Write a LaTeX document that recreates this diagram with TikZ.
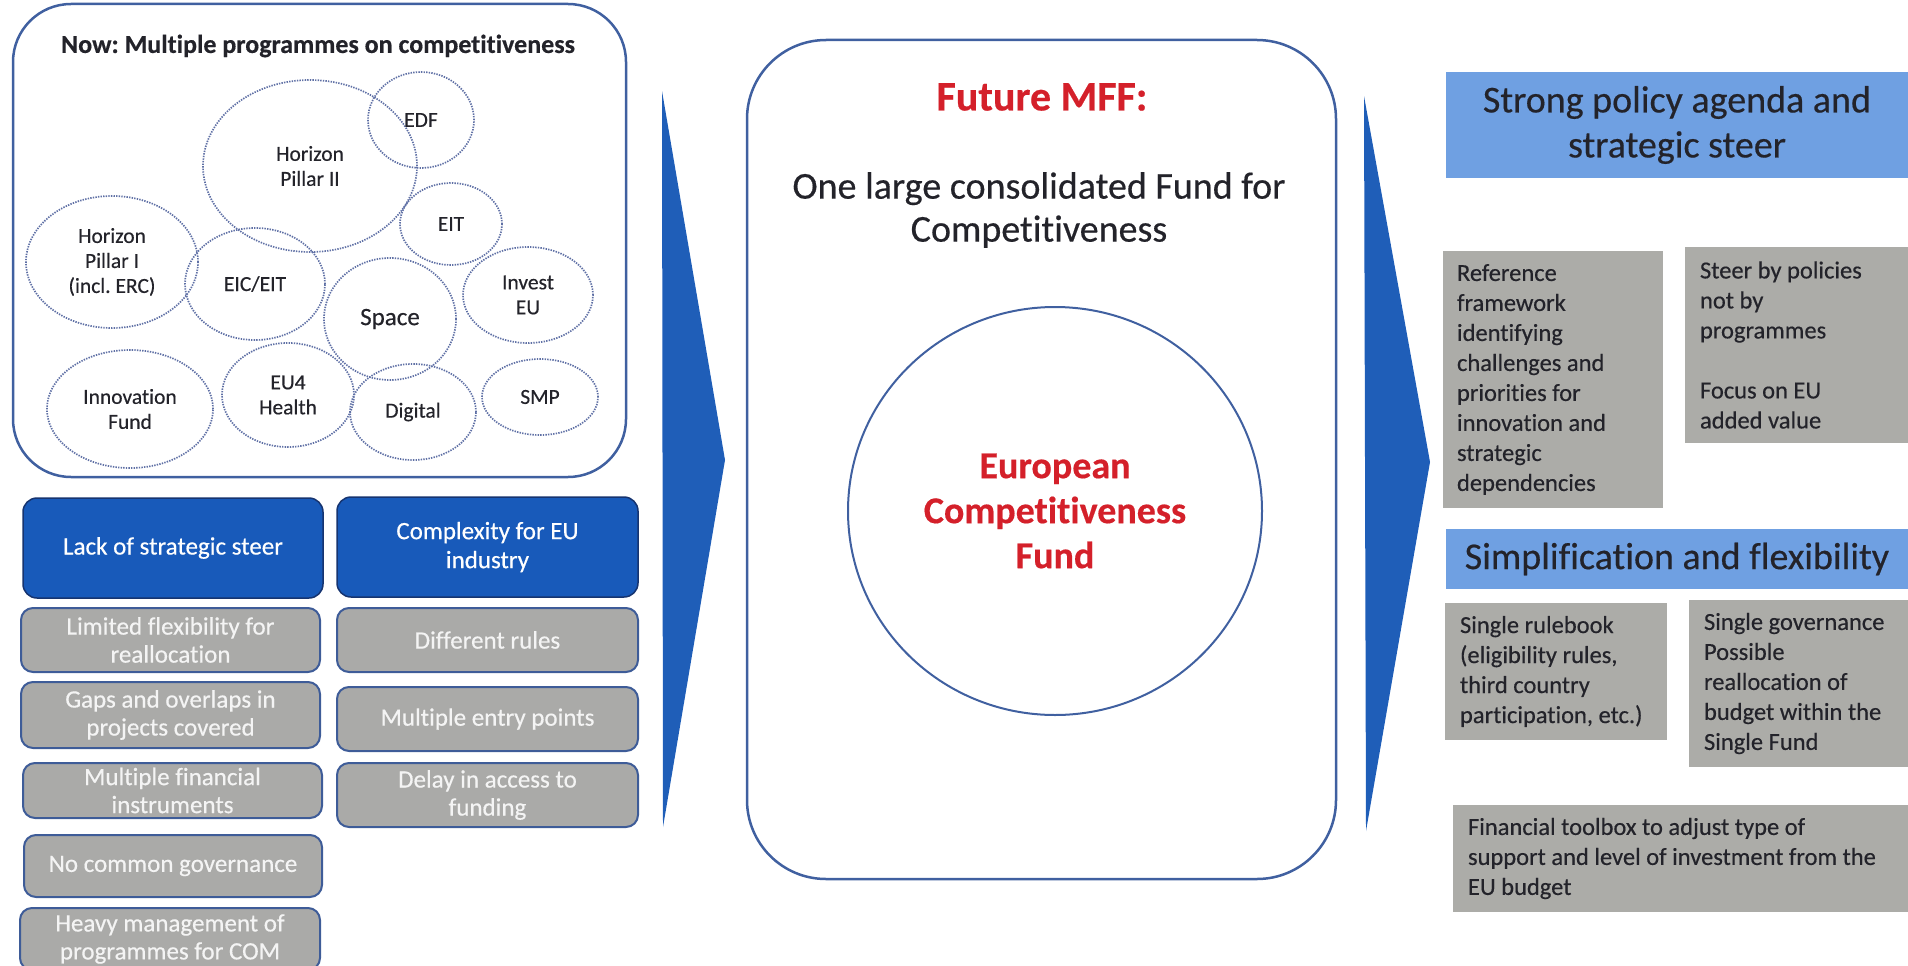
\documentclass[tikz,border=0pt]{standalone}
\usepackage{fontspec}
\setmainfont{Carlito}[Ligatures=NoCommon, FakeBold=0.4]
\frenchspacing
\usetikzlibrary{shapes.geometric}
\definecolor{panelblue}{RGB}{64,96,160}
\definecolor{dotblue}{RGB}{95,112,165}
\definecolor{darkfill}{RGB}{24,90,186}
\definecolor{darkedge}{RGB}{22,52,112}
\definecolor{arrowblue}{RGB}{31,94,184}
\definecolor{headblue}{RGB}{111,160,226}
\definecolor{boxgray}{RGB}{170,170,168}
\definecolor{boxedge}{RGB}{62,92,152}
\definecolor{notegray}{RGB}{172,172,168}
\definecolor{mffred}{RGB}{212,32,42}
\definecolor{inktext}{RGB}{35,35,42}
\definecolor{paleink}{RGB}{244,244,244}
\begin{document}
\begin{tikzpicture}[x=1pt,y=-1pt,
  panel/.style={draw=panelblue, line width=2.5, rounded corners=#1},
  panel/.default=58,
  prog/.style={ellipse, draw=dotblue, line width=1.7, dash pattern=on 1.4pt off 1.2pt,
     inner sep=0, align=center, text=inktext, font=\fontsize{21.5}{25}\selectfont},
  darkbox/.style={rounded corners=14, draw=darkedge, fill=darkfill, line width=1.5,
     text=white, align=center, font=\fontsize{25}{29}\selectfont, inner sep=0},
  graybox/.style={rounded corners=12, draw=boxedge, fill=boxgray, line width=2,
     text=paleink, align=center, font=\fontsize{25}{28}\selectfont, inner sep=0},
  headbox/.style={fill=headblue, text=inktext, align=center, inner sep=0},
  notebox/.style={fill=notegray, inner sep=0},
  notetext/.style={anchor=west, align=left, text=inktext, inner sep=0,
     font=\fontsize{24.5}{30}\selectfont},
  chevron/.style={fill=arrowblue},
]
\useasboundingbox (0,0) rectangle (1908,966);
\clip (0,0) rectangle (1908,966);

% ---------------- left panel ----------------
\node[panel, minimum width=613, minimum height=473] (nowbox) at (319.5,240.5) {};
\node[text=inktext, font=\fontsize{26}{30}\selectfont\bfseries] (nowtitle) at (318,46)
  {Now: Multiple programmes on competitiveness};

\node[prog, minimum width=214, minimum height=172] (hp2) at (310,166) {Horizon\\Pillar II};
\node[prog, minimum width=106, minimum height=96] (edf) at (421,120) {EDF};
\node[prog, minimum width=102, minimum height=82] (eit) at (451,224) {EIT};
\node[prog, minimum width=172, minimum height=132] (hp1) at (112,262) {Horizon\\Pillar I\\(incl. ERC)};
\node[prog, minimum width=140, minimum height=112] (eic) at (255,284) {EIC/EIT};
\node[prog, minimum width=132, minimum height=122, font=\fontsize{25}{28}\selectfont] (space) at (390,319) {Space};
\node[prog, minimum width=130, minimum height=96] (invest) at (528,295) {Invest\\EU};
\node[prog, minimum width=166, minimum height=118] (innov) at (130,409) {Innovation\\Fund};
\node[prog, minimum width=132, minimum height=104] (eu4) at (288,395) {EU4\\Health};
\node[prog, minimum width=126, minimum height=96] (digital) at (413,412) {Digital};
\node[prog, minimum width=116, minimum height=76] (smp) at (540,397) {SMP};

% ---------------- left problem boxes ----------------
\node[darkbox, minimum width=300, minimum height=100] (lack) at (173,548) {Lack of strategic steer};
\node[darkbox, minimum width=301, minimum height=100] (complex) at (487.5,547) {Complexity for EU\\industry};

\node[graybox, minimum width=299, minimum height=64] (limited) at (170.5,640) {Limited flexibility for\\reallocation};
\node[graybox, minimum width=299, minimum height=66] (gaps) at (170.5,715) {Gaps and overlaps in\\projects covered};
\node[graybox, minimum width=299, minimum height=55] (multfin) at (172.5,790.5) {Multiple financial\\instruments};
\node[graybox, minimum width=298, minimum height=62] (nocommon) at (173,866) {No common governance};
\node[graybox, minimum width=300, minimum height=62] (heavy) at (170,939) {Heavy management of\\programmes for COM};

\node[graybox, minimum width=301, minimum height=64] (diffrules) at (487.5,640) {Different rules};
\node[graybox, minimum width=301, minimum height=64] (entry) at (487.5,719) {Multiple entry points};
\node[graybox, minimum width=301, minimum height=64] (delay) at (487.5,795) {Delay in access to\\funding};

% ---------------- arrows ----------------
\coordinate (la1) at (662,91);
\coordinate (la2) at (725,460);
\coordinate (la3) at (663,827);
\fill[chevron] (la1) -- (la2) -- (la3) -- cycle;
\coordinate (ra1) at (1364,96);
\coordinate (ra2) at (1430,462);
\coordinate (ra3) at (1366,831);
\fill[chevron] (ra1) -- (ra2) -- (ra3) -- cycle;

% ---------------- centre panel ----------------
\node[panel=79, minimum width=589, minimum height=839] (futbox) at (1041.5,459.5) {};
\node[text=mffred, font=\fontsize{42}{48}\selectfont\bfseries] (futtitle) at (1042,97) {Future MFF:};
\node[text=inktext, align=center, font=\fontsize{38}{43}\selectfont] (futsub) at (1039,210)
  {One large consolidated Fund for\\Competitiveness};
\node[ellipse, draw=panelblue, line width=2, minimum width=414, minimum height=408,
  inner sep=0, text=mffred, align=center, font=\fontsize{38}{45}\selectfont\bfseries] (ecf) at (1055,511)
  {European\\Competitiveness\\Fund};

% ---------------- right panel ----------------
\node[headbox, minimum width=462, minimum height=106, font=\fontsize{38}{45}\selectfont] (head1) at (1677,125)
  {Strong policy agenda and\\strategic steer};
\node[notebox, minimum width=220, minimum height=257] (note1) at (1553,379.5) {};
\node[notetext] (note1t) at ([xshift=14]note1.west)
  {Reference\\framework\\identifying\\challenges and\\priorities for\\innovation and\\strategic\\dependencies};
\node[notebox, minimum width=223, minimum height=196] (note2) at (1796.5,345) {};
\node[notetext] (note2t) at ([xshift=15]note2.west)
  {Steer by policies\\not by\\programmes\\[30pt]Focus on EU\\added value};

\node[headbox, minimum width=462, minimum height=60, font=\fontsize{38}{44}\selectfont] (head2) at (1677,559)
  {Simplification and flexibility};
\node[notebox, minimum width=222, minimum height=137] (note3) at (1556,671.5) {};
\node[notetext] (note3t) at ([xshift=15]note3.west)
  {Single rulebook\\(eligibility rules,\\third country\\participation, etc.)};
\node[notebox, minimum width=219, minimum height=167] (note4) at (1798.5,683.5) {};
\node[notetext] (note4t) at ([xshift=15]note4.west)
  {Single governance\\Possible\\reallocation of\\budget within the\\Single Fund};
\node[notebox, minimum width=455, minimum height=107] (note5) at (1680.5,858.5) {};
\node[notetext] (note5t) at ([xshift=15]note5.west)
  {Financial toolbox to adjust type of\\support and level of investment from the\\EU budget};
\end{tikzpicture}
\end{document}
